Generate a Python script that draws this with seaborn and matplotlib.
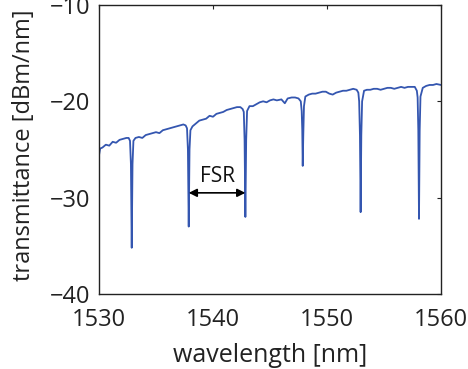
import matplotlib
matplotlib.use('Agg')
import matplotlib.pyplot as plt
import seaborn as sns
import pandas as pd

# spectrum: baseline with the six ring resonances
wavelength = [
    1530.0, 1530.1, 1530.3, 1530.6, 1530.9, 1531.2, 1531.5, 1531.8, 1532.1, 1532.4, 1532.6,
    1532.72, 1532.8, 1532.87, 1532.94, 1533.02,
    1533.2, 1533.5, 1533.8, 1534.1, 1534.4, 1534.7, 1535.0, 1535.3, 1535.6, 1535.9,
    1536.2, 1536.5, 1536.8, 1537.1, 1537.4, 1537.6,
    1537.72, 1537.8, 1537.87, 1537.94, 1538.02,
    1538.2, 1538.5, 1538.8, 1539.1, 1539.4, 1539.7, 1540.0, 1540.3, 1540.6, 1540.9,
    1541.2, 1541.5, 1541.8, 1542.1, 1542.4, 1542.6,
    1542.7, 1542.77, 1542.84, 1542.91, 1542.99,
    1543.2, 1543.5, 1543.8, 1544.1, 1544.4, 1544.7, 1545.0, 1545.3, 1545.6, 1546.0,
    1546.3, 1546.55, 1546.9, 1547.2, 1547.5, 1547.7,
    1547.78, 1547.83, 1547.87, 1547.92, 1547.98,
    1548.1, 1548.4, 1548.7, 1549.0, 1549.3, 1549.6, 1549.9, 1550.2, 1550.5, 1550.8,
    1551.1, 1551.4, 1551.7, 1552.0, 1552.3, 1552.6, 1552.75,
    1552.82, 1552.89, 1552.95, 1553.01, 1553.08,
    1553.25, 1553.5, 1553.8, 1554.1, 1554.4, 1554.7, 1555.0, 1555.3, 1555.6, 1555.9,
    1556.2, 1556.5, 1556.8, 1557.1, 1557.4, 1557.7, 1557.88,
    1557.95, 1558.01, 1558.07, 1558.13, 1558.2,
    1558.4, 1558.7, 1559.0, 1559.3, 1559.6, 1560.0,
]
transmittance = [
    -25.6, -24.9, -24.8, -24.5, -24.6, -24.2, -24.3, -24.0, -23.9, -23.8, -23.8,
    -24.1, -26.5, -35.2, -26.5, -24.1,
    -23.8, -23.7, -23.8, -23.5, -23.4, -23.3, -23.2, -23.3, -23.0, -22.9,
    -22.8, -22.7, -22.6, -22.5, -22.4, -22.5,
    -22.8, -25.0, -33.0, -25.0, -23.0,
    -22.6, -22.3, -22.0, -21.9, -21.8, -21.5, -21.6, -21.3, -21.2, -21.1,
    -20.9, -20.8, -20.7, -20.6, -20.6, -20.8,
    -21.1, -24.0, -32.0, -24.0, -21.0,
    -20.5, -20.5, -20.3, -20.1, -20.0, -20.1, -19.9, -19.8, -19.9, -19.8,
    -20.2, -19.7, -19.6, -19.6, -19.7, -20.0,
    -21.0, -23.0, -26.7, -23.5, -20.5,
    -19.5, -19.3, -19.2, -19.2, -19.1, -19.0, -19.0, -19.2, -19.3, -19.1,
    -19.0, -18.9, -18.9, -18.8, -18.7, -18.8, -19.1,
    -20.0, -23.5, -31.5, -23.5, -20.0,
    -18.9, -18.8, -18.8, -18.7, -18.7, -18.8, -18.7, -18.6, -18.6, -18.7,
    -18.6, -18.5, -18.6, -18.5, -18.5, -18.5, -18.9,
    -19.6, -23.0, -32.2, -23.0, -19.5,
    -18.6, -18.4, -18.3, -18.3, -18.2, -18.3,
]

# FSR marker between the 2nd and 3rd resonance
fsr_start = 1537.87
fsr_end = 1542.84
fsr_level = -29.5

x_ticks = [1530, 1540, 1550, 1560]
y_ticks = [-40, -30, -20, -10]

df = pd.DataFrame({'wavelength': wavelength, 'transmittance': transmittance})

sns.set_theme(style="white")
plt.rcParams['font.family'] = ['Open Sans', 'DejaVu Sans']
plt.rcParams['axes.unicode_minus'] = True

fig = plt.figure(figsize=(4.68, 3.69), dpi=100)
ax = fig.add_axes([99/468, 1 - 294/369, 342/468, 289/369])

sns.lineplot(data=df, x='wavelength', y='transmittance', ax=ax, color='#3456b0',
             linewidth=1.3, sort=False, estimator=None)

ax.annotate('', xy=(fsr_start, fsr_level), xytext=(fsr_end, fsr_level),
            arrowprops=dict(arrowstyle='<|-|>', color='black', lw=1.2,
                            shrinkA=0, shrinkB=0, mutation_scale=12))
ax.text((fsr_start + fsr_end) / 2, fsr_level + 0.6, 'FSR', ha='center', va='bottom',
        fontsize=15, color='#111111')

ax.set_xlim(1530, 1560)
ax.set_ylim(-40, -10)
ax.set_xticks(x_ticks)
ax.set_yticks(y_ticks)
ax.tick_params(direction='in', length=3, width=0.8, color='#222222',
               top=True, right=True, labelsize=17, labelcolor='#222222')
ax.tick_params(axis='x', pad=10)
ax.tick_params(axis='y', pad=6)
for s in ax.spines.values():
    s.set_color('#222222')
    s.set_linewidth(1.0)

ax.set_xlabel('wavelength [nm]', fontsize=18, color='#222222', labelpad=8)
ax.set_ylabel('transmittance [dBm/nm]', fontsize=17, color='#222222')
ax.yaxis.set_label_coords(-0.185, 0.515)

fig.savefig('out.png', dpi=100)
